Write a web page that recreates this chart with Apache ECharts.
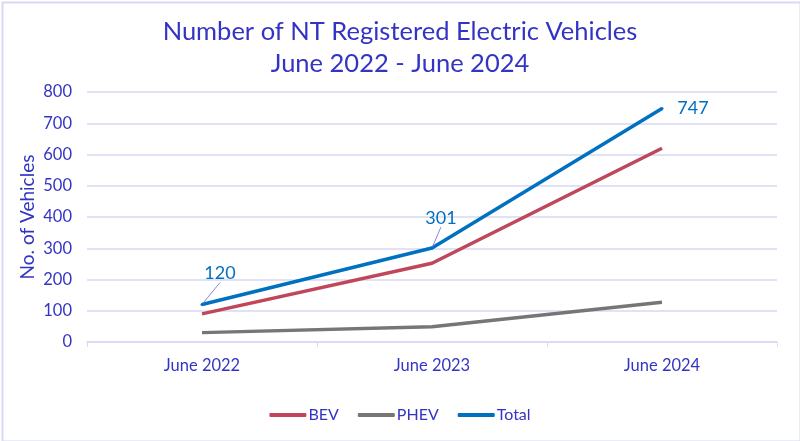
<!DOCTYPE html>
<html><head><meta charset="utf-8">
<script src="https://cdn.jsdelivr.net/npm/echarts@6/dist/echarts.min.js"></script>
<style>html,body{margin:0;padding:0;background:#fff}#c{width:800px;height:441px}</style>
</head><body><div id="c"></div>
<script>
const categories = ['June 2022', 'June 2023', 'June 2024'];
const bev = [90, 252, 620];
const phev = [30, 49, 127];
const total = [120, 301, 747];
const yTicks = [0, 100, 200, 300, 400, 500, 600, 700, 800];

const textColor = '#3434C4';
const labelOffsets = [[18, -31], [9, -30], [31, 0]];
const leaderShown = [true, true, false];

const chart = echarts.init(document.getElementById('c'));
chart.setOption({
  backgroundColor: '#fff',
  animation: false,
  textStyle: { fontFamily: 'Lato' },
  graphic: [{
    type: 'rect', left: 0, top: 0, silent: true,
    shape: { x: 1, y: 1, width: 798, height: 439 },
    style: { fill: 'none', stroke: '#D9D9F3', lineWidth: 2 }
  }],
  title: {
    text: 'Number of NT Registered Electric Vehicles\nJune 2022 - June 2024',
    left: 'center', top: 11,
    textStyle: { fontFamily: 'Lato', fontSize: 25.5, fontWeight: 'normal', color: textColor, lineHeight: 32 }
  },
  legend: {
    top: 402, left: 'center', itemWidth: 37, itemHeight: 4, itemGap: 19,
    icon: 'roundRect',
    textStyle: { fontFamily: 'Lato', fontSize: 16, color: textColor, padding: [0, 0, 0, -3] },
    data: ['BEV', 'PHEV', 'Total']
  },
  grid: { left: 87, right: 23, top: 92, bottom: 99 },
  xAxis: {
    type: 'category', data: categories, boundaryGap: true,
    axisLine: { lineStyle: { color: '#D9D9F3', width: 1.5 } },
    axisTick: { show: true, length: 5, lineStyle: { color: '#D9D9F3' } },
    axisLabel: { fontFamily: 'Lato', fontSize: 16.5, color: textColor, margin: 15 }
  },
  yAxis: {
    type: 'value', min: 0, max: 800, interval: 100,
    name: 'No. of Vehicles', nameLocation: 'middle', nameGap: 50, nameMoveOverlap: false,
    nameTextStyle: { fontFamily: 'Lato', fontSize: 19, color: textColor },
    axisLine: { show: false }, axisTick: { show: false },
    axisLabel: { fontFamily: 'Lato', fontSize: 16.5, color: textColor, margin: 15,
      formatter: v => yTicks.includes(v) ? String(v) : '' },
    splitLine: { lineStyle: { color: '#D9D9F3', width: 1.5 } }
  },
  series: [
    { name: 'BEV', type: 'line', data: bev, symbol: 'none', color: '#C0475A',
      lineStyle: { width: 3.5, color: '#C0475A' }, z: 3 },
    { name: 'PHEV', type: 'line', data: phev, symbol: 'none', color: '#767676',
      lineStyle: { width: 3.5, color: '#767676' }, z: 2 },
    { name: 'Total', type: 'line', symbol: 'circle', symbolSize: 3, showSymbol: true, color: '#0070C0',
      itemStyle: { color: '#0070C0' },
      lineStyle: { width: 3.5, color: '#0070C0' }, z: 4,
      data: total.map((v, i) => ({ value: v, labelLine: { show: leaderShown[i] } })),
      label: { show: true, position: 'inside', fontFamily: 'Lato', fontSize: 18, color: '#0070C0',
        formatter: p => String(p.value) },
      labelLine: { show: true, lineStyle: { color: '#8A8AE0', width: 1 } },
      labelLayout: p => ({ dx: labelOffsets[p.dataIndex][0], dy: labelOffsets[p.dataIndex][1] })
    }
  ]
});
</script></body></html>
